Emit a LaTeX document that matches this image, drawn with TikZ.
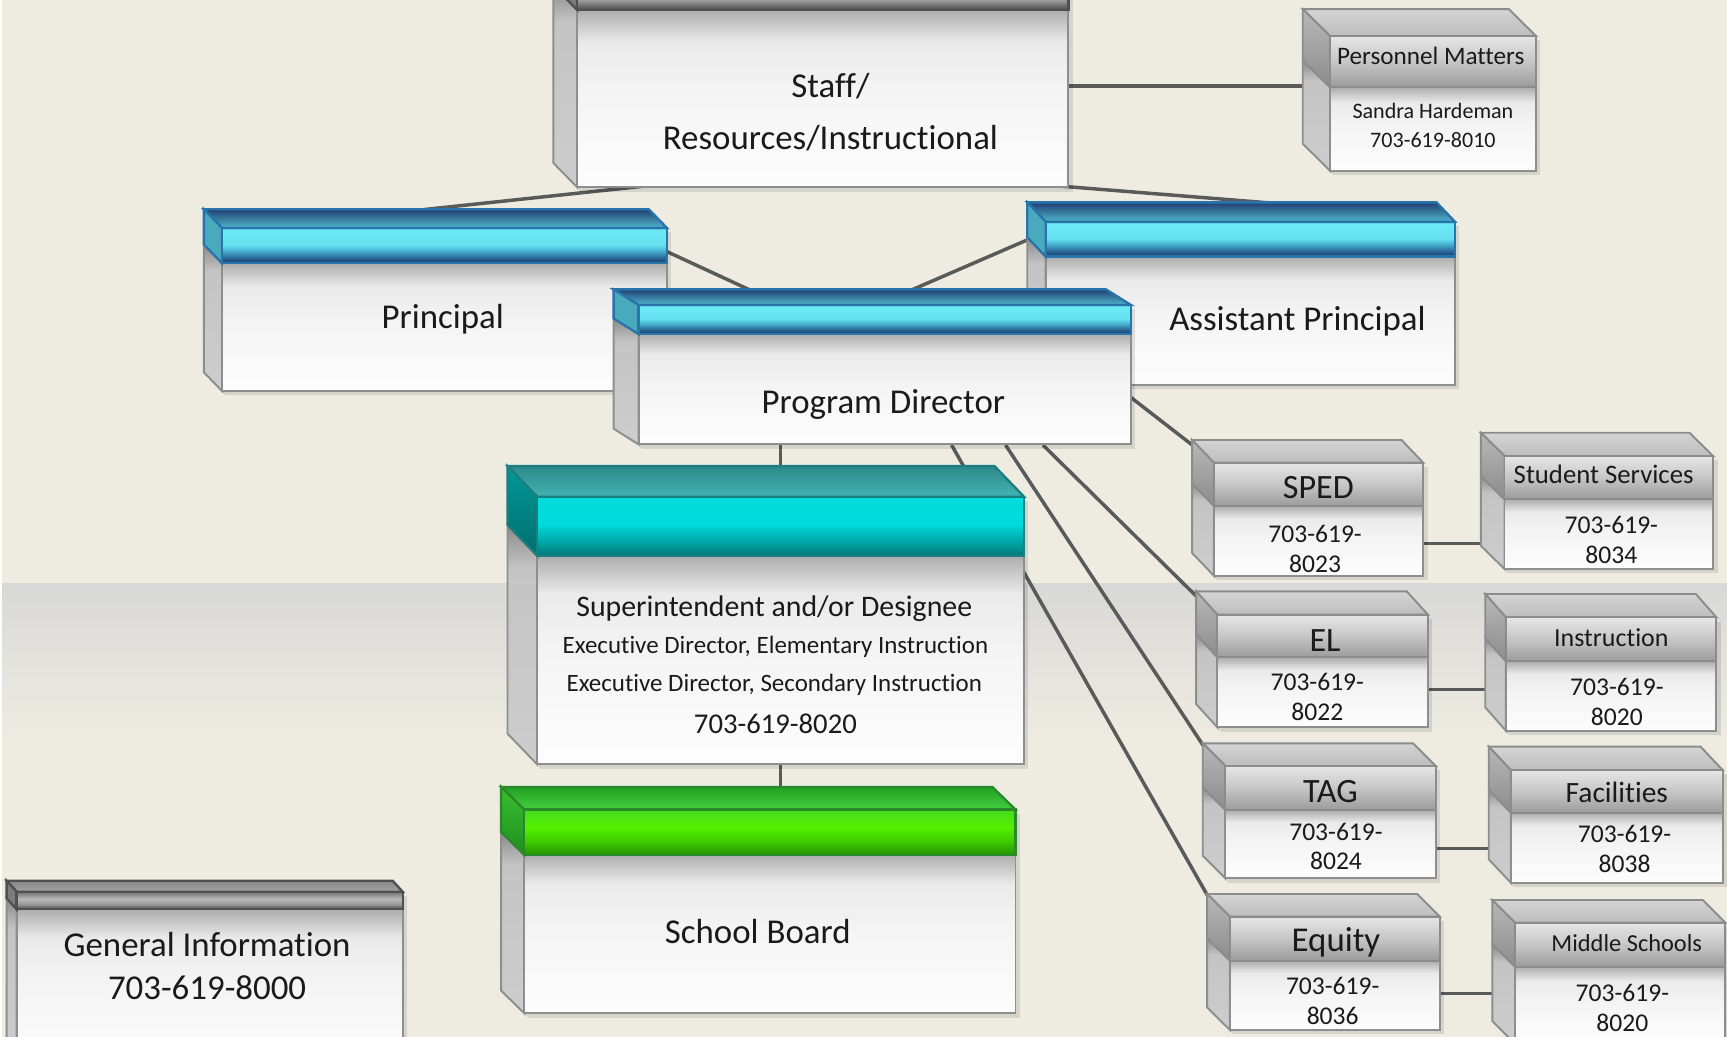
\documentclass[tikz,border=0pt]{standalone}
\usepackage{fontspec}
\setmainfont{Carlito}[RawFeature={-liga}]
\usetikzlibrary{fit,calc}
\pgfdeclarelayer{bgl}\pgfdeclarelayer{lnl}\pgfsetlayers{bgl,lnl,main}

\definecolor{bgc}{HTML}{EEECE1}
\definecolor{bandgray}{HTML}{D8D8D8}
\definecolor{txtc}{HTML}{1A1A1A}
\definecolor{lineC}{HTML}{5A5A5A}
\definecolor{bordc}{HTML}{8E8E8E}
\definecolor{bodyA}{HTML}{FDFDFD}
\definecolor{bodyB}{HTML}{F4F4F4}
\definecolor{bodyC}{HTML}{EAEAEA}
\definecolor{bodyD}{HTML}{ADADAD}
\definecolor{sideA}{HTML}{CDCDCD}
\definecolor{sideB}{HTML}{C4C4C4}
\definecolor{sideC}{HTML}{8A8A8A}
% cyan
\definecolor{cyA}{HTML}{163A6A}
\definecolor{cyB}{HTML}{2A6898}
\definecolor{cyC}{HTML}{48B2D0}
\definecolor{cyD}{HTML}{66E0F0}
\definecolor{cyE}{HTML}{6CEAF6}
\definecolor{cyTopF}{HTML}{4FB6CC}
\definecolor{cyTopB}{HTML}{223F72}
\definecolor{cySide}{HTML}{4AAABD}
\definecolor{cyBord}{HTML}{2A74AC}
% teal
\definecolor{tlA}{HTML}{007878}
\definecolor{tlB}{HTML}{00A6A6}
\definecolor{tlC}{HTML}{00DADA}
\definecolor{tlD}{HTML}{05DCDC}
\definecolor{tlTopF}{HTML}{43B3B3}
\definecolor{tlTopB}{HTML}{2E8989}
\definecolor{tlSideA}{HTML}{006E6E}
\definecolor{tlSideB}{HTML}{009898}
\definecolor{tlBord}{HTML}{1B7F7F}
% green
\definecolor{grA}{HTML}{239400}
\definecolor{grB}{HTML}{3FCB00}
\definecolor{grC}{HTML}{55F000}
\definecolor{grD}{HTML}{44DC1E}
\definecolor{grTopF}{HTML}{44D040}
\definecolor{grTopB}{HTML}{22A022}
\definecolor{grSideA}{HTML}{1E8E1E}
\definecolor{grSideB}{HTML}{38C030}
\definecolor{grBord}{HTML}{2A8A2A}
% dark gray bar
\definecolor{dgA}{HTML}{4A4A4A}
\definecolor{dgB}{HTML}{9A9A9A}
\definecolor{dgC}{HTML}{B8B8B8}
\definecolor{dgD}{HTML}{707070}
\definecolor{dgTopF}{HTML}{A5A5A5}
\definecolor{dgTopB}{HTML}{858585}
\definecolor{dgSide}{HTML}{7C7C7C}
\definecolor{dgBord}{HTML}{505050}
% light gray
\definecolor{lgA}{HTML}{9B9B9B}
\definecolor{lgB}{HTML}{C6C6C6}
\definecolor{lgC}{HTML}{E6E6E6}
\definecolor{lgTopF}{HTML}{BDBDBD}
\definecolor{lgTopB}{HTML}{D4D4D4}
\definecolor{lgSideA}{HTML}{8C8C8C}
\definecolor{lgSideB}{HTML}{B8B8B8}
\definecolor{lgBord}{HTML}{8C8C8C}

\pgfdeclareverticalshading{bodysh}{100bp}{color(0bp)=(bodyA); color(25bp)=(bodyA); color(52bp)=(bodyB); color(66bp)=(bodyC); color(75bp)=(bodyD); color(100bp)=(bodyD)}
\pgfdeclareverticalshading{sidesh}{100bp}{color(0bp)=(sideA); color(25bp)=(sideA); color(66bp)=(sideB); color(75bp)=(sideC); color(100bp)=(sideC)}
\pgfdeclareverticalshading{cyfrontsh}{100bp}{color(0bp)=(cyA); color(25bp)=(cyA); color(33bp)=(cyB); color(43bp)=(cyC); color(51bp)=(cyD); color(72bp)=(cyE); color(75bp)=(cyC); color(100bp)=(cyC)}
\pgfdeclareverticalshading{tlfrontsh}{100bp}{color(0bp)=(tlA); color(25bp)=(tlA); color(37bp)=(tlB); color(52bp)=(tlC); color(75bp)=(tlD); color(100bp)=(tlD)}
\pgfdeclareverticalshading{grfrontsh}{100bp}{color(0bp)=(grA); color(25bp)=(grA); color(40bp)=(grB); color(55bp)=(grC); color(75bp)=(grD); color(100bp)=(grD)}
\pgfdeclareverticalshading{dgfrontsh}{100bp}{color(0bp)=(dgA); color(25bp)=(dgA); color(40bp)=(dgB); color(55bp)=(dgC); color(75bp)=(dgD); color(100bp)=(dgD)}
\pgfdeclareverticalshading{lgfrontsh}{100bp}{color(0bp)=(lgA); color(25bp)=(lgA); color(50bp)=(lgB); color(75bp)=(lgC); color(100bp)=(lgC)}

\tikzset{
  bodyfront/.style={shading=bodysh, draw=bordc, line width=0.5pt},
  bodyside/.style={shading=sidesh, draw=bordc, line width=0.5pt},
  shadowc/.style={black, opacity=0.10},
  cyfront/.style={shading=cyfrontsh, draw=cyBord, line width=0.6pt},
  cytop/.style={top color=cyTopB, bottom color=cyTopF, draw=cyBord, line width=0.6pt},
  cyside/.style={fill=cySide, draw=cyBord, line width=0.6pt},
  tlfront/.style={shading=tlfrontsh, draw=tlBord, line width=0.6pt},
  tltop/.style={top color=tlTopB, bottom color=tlTopF, draw=tlBord, line width=0.6pt},
  tlside/.style={top color=tlSideB, bottom color=tlSideA, draw=tlBord, line width=0.6pt},
  grfront/.style={shading=grfrontsh, draw=grBord, line width=0.6pt},
  grtop/.style={top color=grTopB, bottom color=grTopF, draw=grBord, line width=0.6pt},
  grside/.style={top color=grSideB, bottom color=grSideA, draw=grBord, line width=0.6pt},
  dgfront/.style={shading=dgfrontsh, draw=dgBord, line width=0.6pt},
  dgtop/.style={top color=dgTopB, bottom color=dgTopF, draw=dgBord, line width=0.6pt},
  dgside/.style={fill=dgSide, draw=dgBord, line width=0.6pt},
  lgfront/.style={shading=lgfrontsh, draw=lgBord, line width=0.5pt},
  lgtop/.style={top color=lgTopB, bottom color=lgTopF, draw=lgBord, line width=0.5pt},
  lgside/.style={top color=lgSideB, bottom color=lgSideA, draw=lgBord, line width=0.5pt},
  conn/.style={draw=lineC, line width=0.9pt},
  txt/.style={text=txtc, inner sep=0pt, align=center},
  fnine/.style={txt, font=\fontsize{9}{13.4}\selectfont},
  fhead/.style={txt, font=\fontsize{8.8}{10}\selectfont},
  fphone/.style={txt, font=\fontsize{6.6}{7.7}\selectfont},
}

\newcommand{\tdbox}[9]{%
  \pgfmathsetmacro{\tbXa}{#2}%
  \pgfmathsetmacro{\tbYa}{#3}%
  \pgfmathsetmacro{\tbXb}{#2+#4}%
  \pgfmathsetmacro{\tbYb}{#3+#5}%
  \pgfmathsetmacro{\tbXl}{#2-#6}%
  \pgfmathsetmacro{\tbXr}{#2+#4-#6}%
  \pgfmathsetmacro{\tbYt}{#3-#7}%
  \pgfmathsetmacro{\tbYm}{#3+#8}%
  \pgfmathsetmacro{\tbYmb}{#3+#8-#7}%
  \pgfmathsetmacro{\tbYbb}{#3+#5-#7}%
  \fill[shadowc] (\tbXa+3,\tbYa+4) rectangle (\tbXb+4,\tbYb+4);
  \fill[shadowc] (\tbXl+2,\tbYbb+2) -- (\tbXa+3,\tbYb+4) -- (\tbXa+3,\tbYm) -- cycle;
  \path[bodyside] (\tbXa,\tbYm) -- (\tbXl,\tbYmb) -- (\tbXl,\tbYbb) -- (\tbXa,\tbYb) -- cycle;
  \path[bodyfront] (\tbXa,\tbYm) rectangle (\tbXb,\tbYb);
  \path[#9top] (\tbXa,\tbYa) -- (\tbXl,\tbYt) -- (\tbXr,\tbYt) -- (\tbXb,\tbYa) -- cycle;
  \path[#9side] (\tbXa,\tbYa) -- (\tbXl,\tbYt) -- (\tbXl,\tbYmb) -- (\tbXa,\tbYm) -- cycle;
  \path[#9front] (\tbXa,\tbYa) rectangle (\tbXb,\tbYm);
  \node[fit={(\tbXa,\tbYa) (\tbXb,\tbYb)}, inner sep=0pt, draw=none] (#1) {};
}

\begin{document}
\begin{tikzpicture}[x=0.01cm,y=-0.01cm]
\useasboundingbox (0,0) rectangle (1568,941.5);
\begin{pgfonlayer}{bgl}
  \fill[bgc] (0,0) rectangle (1568,941.5);
  \shade[top color=bandgray, bottom color=bgc] (0,530) rectangle (1568,672);
  \fill[white] (0,0) rectangle (2,941.5);
\end{pgfonlayer}

% boxes: name, x, y, w, h, dx, dy, band, scheme
\tdbox{staff}{524}{-20}{446}{190}{21.5}{22}{29}{dg}
\tdbox{pm}{1207.6}{32.7}{187}{122.3}{24.8}{24.5}{46.6}{lg}
\tdbox{principal}{201.6}{207}{404}{148}{16.5}{17}{32}{cy}
\tdbox{ap}{949.4}{201.3}{371.6}{148.3}{16.7}{17.6}{31.7}{cy}
\tdbox{pd}{579.8}{276.9}{447.1}{126.5}{22.7}{14.2}{26.4}{cy}
\tdbox{supt}{487.7}{451}{442.1}{243}{26.9}{27.9}{53.5}{tl}
\tdbox{sb}{476}{735}{446}{185}{21}{20.5}{41}{gr}
\tdbox{gi}{15.1}{809.6}{350.5}{160}{9.1}{10}{16}{dg}
\tdbox{sped}{1102.1}{420.1}{190.1}{102.6}{19.7}{20.6}{39.3}{lg}
\tdbox{ss}{1366}{414}{189.4}{102.6}{21.5}{21.1}{39.4}{lg}
\tdbox{el}{1105.3}{558.1}{191.2}{102.3}{19.3}{21.2}{38.7}{lg}
\tdbox{ins}{1367.2}{560.5}{191.2}{102.9}{18.7}{21.2}{39.9}{lg}
\tdbox{tag}{1112.6}{695.5}{191}{102}{20.6}{20.6}{39.9}{lg}
\tdbox{fac}{1371.7}{699.1}{192.3}{102.3}{20}{21.2}{38.8}{lg}
\tdbox{eq}{1116.7}{832.3}{190.7}{102.9}{20.7}{20.6}{39.9}{lg}
\tdbox{ms}{1375.5}{837.7}{191.1}{110}{20.6}{20.6}{40}{lg}

% texts
\node[fnine] (staff-t) at (754,102) {Staff/\\Resources/Instructional};
\node[txt, font=\fontsize{6.5}{7.5}\selectfont] (pm-h) at (1299,51) {Personnel Matters};
\node[txt, font=\fontsize{5.7}{7.4}\selectfont] (pm-b) at (1301,114) {Sandra Hardeman\\703-619-8010};
\node[fnine] (principal-t) at (402,290) {Principal};
\node[fnine] (ap-t) at (1178,292) {Assistant Principal};
\node[fnine] (pd-t) at (802,367) {Program Director};
\node[txt, font=\fontsize{7.7}{9}\selectfont] (supt-a) at (703,553) {Superintendent and/or Designee};
\node[txt, font=\fontsize{6.45}{7.5}\selectfont] (supt-b) at (704,587.5) {Executive Director, Elementary Instruction};
\node[txt, font=\fontsize{6.45}{7.5}\selectfont] (supt-c) at (703,621.5) {Executive Director, Secondary Instruction};
\node[txt, font=\fontsize{7.4}{9}\selectfont] (supt-d) at (704,657) {703-619-8020};
\node[fnine] (sb-t) at (688,846) {School Board};
\node[txt, font=\fontsize{9}{11.1}\selectfont] (gi-t) at (188,877) {General Information\\703-619-8000};
\node[fhead] (sped-h) at (1197,442.5) {SPED};
\node[fphone] (sped-p) at (1194,498.5) {703-619-\\8023};
\node[txt, font=\fontsize{6.9}{8}\selectfont] (ss-h) at (1456,431) {Student Services};
\node[fphone] (ss-p) at (1463,490.5) {703-619-\\8034};
\node[fhead] (el-h) at (1203,581.5) {EL};
\node[fphone] (el-p) at (1196,632.5) {703-619-\\8022};
\node[txt, font=\fontsize{6.7}{8}\selectfont] (ins-h) at (1463,579) {Instruction};
\node[fphone] (ins-p) at (1468,637.5) {703-619-\\8020};
\node[fhead] (tag-h) at (1208,718.5) {TAG};
\node[fphone] (tag-p) at (1213,768.5) {703-619-\\8024};
\node[txt, font=\fontsize{7.6}{8.5}\selectfont] (fac-h) at (1468,719) {Facilities};
\node[fphone] (fac-p) at (1475,771) {703-619-\\8038};
\node[txt, font=\fontsize{9}{10}\selectfont] (eq-h) at (1213,856) {Equity};
\node[fphone] (eq-p) at (1210,908.5) {703-619-\\8036};
\node[txt, font=\fontsize{6.3}{7.5}\selectfont] (ms-h) at (1477,856) {Middle Schools};
\node[fphone] (ms-p) at (1473,915.5) {703-619-\\8020};

% connectors
\begin{pgfonlayer}{lnl}
  \draw[conn] ($(staff.east)+(0,3)$) coordinate (c1) -- (pm.west |- c1);
  \draw[conn] ($(staff.south)+(0,-19)$) -- ($(principal.north)+(-23.6,-15.5)$);
  \draw[conn] ($(staff.south)+(0,-19)$) -- ($(ap.north)+(24.8,-15.8)$);
  \draw[conn] ($(principal.east)+(-15.6,-59.4)$) -- ($(pd.north)+(-103.35,-4.1)$);
  \draw[conn] ($(ap.west)+(-4.4,-62.65)$) -- ($(pd.north)+(6.65,-5.3)$);
  \draw[conn] (supt.north |- pd.south) -- (supt.north);
  \draw[conn] (supt.south) -- (supt.south |- sb.north);
  \draw[conn] ($(pd.east)+(-12,12)$) -- ($(sped.north west)+(-12,-10)$);
  \draw[conn] ($(pd.south)+(143.65,0)$) -- ($(el.north west)+(-9.3,-7.1)$);
  \draw[conn] ($(pd.south)+(109.65,0)$) -- ($(tag.north west)+(-12.6,-7.5)$);
  \draw[conn] ($(pd.south)+(60.65,0)$) -- ($(eq.north west)+(-12.7,-6.3)$);
  \draw[conn] ($(sped.east)+(0,21.9)$) coordinate (c2) -- (ss.west |- c2);
  \draw[conn] ($(el.east)+(0,16.65)$) coordinate (c3) -- (ins.west |- c3);
  \draw[conn] ($(tag.east)+(0,23.7)$) coordinate (c4) -- (fac.west |- c4);
  \draw[conn] ($(eq.east)+(0,18.15)$) coordinate (c5) -- (ms.west |- c5);
\end{pgfonlayer}
\end{tikzpicture}
\end{document}
